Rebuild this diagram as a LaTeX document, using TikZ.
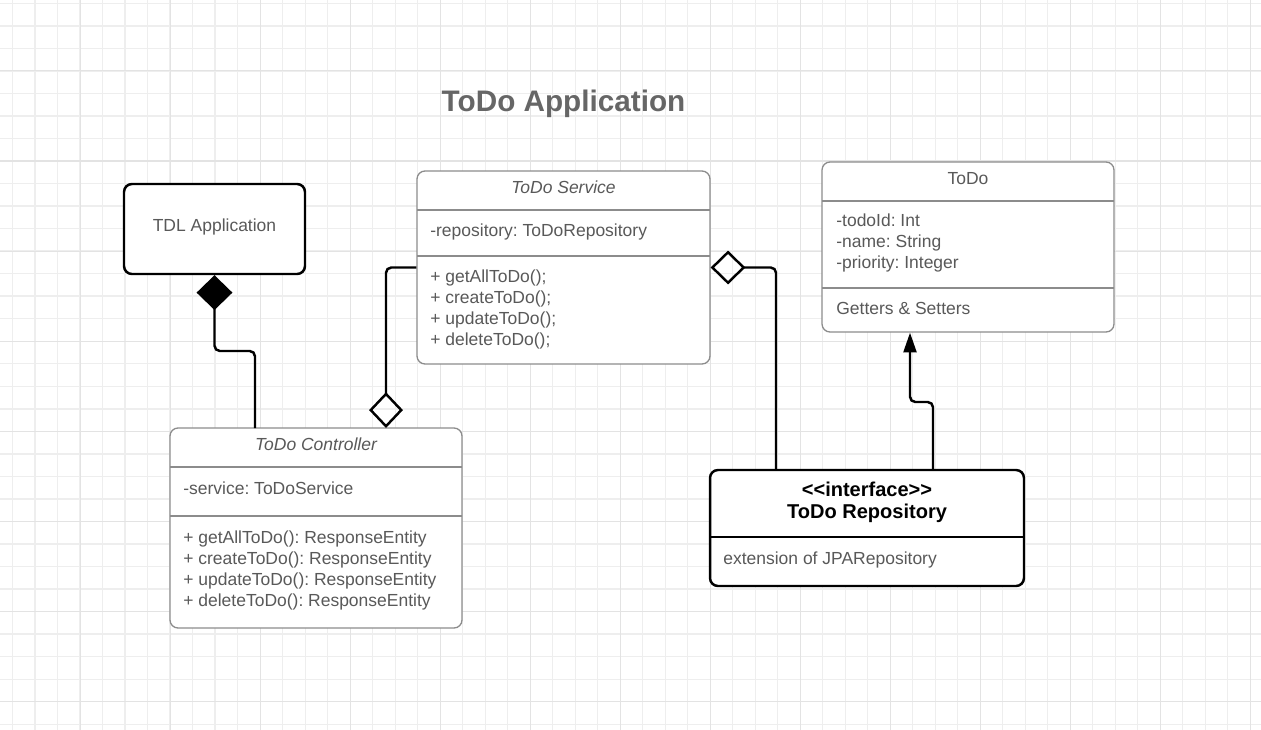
\documentclass[tikz,border=0pt]{standalone}
\usepackage{fontspec}
\setmainfont{Liberation Sans}
\usetikzlibrary{arrows.meta}
\frenchspacing

\definecolor{txtgray}{HTML}{595959}
\definecolor{titlegray}{HTML}{666666}
\definecolor{boxgray}{HTML}{8C8C8C}
\definecolor{gridminor}{HTML}{EEEEEE}
\definecolor{gridmajor}{HTML}{E3E3E3}

\begin{document}
\begin{tikzpicture}[x=0.02cm, y=-0.02cm,
    classbox/.style={draw=boxgray, line width=0.75pt, rounded corners=4.5pt, fill=white, inner sep=0pt},
    boldbox/.style={draw=black, line width=1.4pt, rounded corners=4.5pt, fill=white, inner sep=0pt},
    divider/.style={draw=boxgray, line width=0.75pt},
    member/.style={anchor=west, inner sep=0pt, text=txtgray, text height=1.6ex, text depth=0.4ex, font=\fontsize{9.95}{12}\selectfont},
    heading/.style={member, anchor=center},
    stereo/.style={inner sep=0pt, font=\fontsize{11.4}{13}\selectfont\bfseries},
    link/.style={line width=1.4pt, rounded corners=3pt},
]
    \useasboundingbox (0,0) rectangle (1261,730);
    % Grid
    \foreach \i in {0,...,55} {
        \draw[gridminor, line width=0.8pt] ({12.7+22.5*\i},0) -- ({12.7+22.5*\i},730);
    }
    \foreach \i in {0,...,32} {
        \draw[gridminor, line width=0.8pt] (0,{3.3+22.53*\i}) -- (1261,{3.3+22.53*\i});
    }
    \foreach \i in {3,7,...,55} {
        \draw[gridmajor, line width=0.6pt] ({12.7+22.5*\i},0) -- ({12.7+22.5*\i},730);
    }
    \foreach \i in {3,7,...,31} {
        \draw[gridmajor, line width=0.6pt] (0,{3.3+22.53*\i}) -- (1261,{3.3+22.53*\i});
    }

    % Title
    \node[text=titlegray, font=\fontsize{16.9}{20}\selectfont\bfseries] (title) at (563.5,104) {ToDo Application};

    % TDL Application
    \node[boldbox, minimum width=3.62cm, minimum height=1.8cm] (tdl) at (214.5,229) {};
    \node[heading] (tdl-name) at (214.5,226) {TDL Application};

    % ToDo Service
    \node[classbox, minimum width=5.86cm, minimum height=3.86cm] (service) at (563.5,267.5) {};
    \node[heading, font=\fontsize{9.95}{12}\selectfont\itshape] (service-name) at (563.5,188) {ToDo Service};
    \draw[divider] (417,210) -- (710,210);
    \draw[divider] (417,256) -- (710,256);
    \node[member] (service-attr) at (430,231) {-repository: ToDoRepository};
    \foreach \name/\i in {getAllToDo/1,createToDo/2,updateToDo/3,deleteToDo/4} {
        \node[member] (service-op-\i) at (430,{256+21*\i}) {+ \name();};
    }

    % ToDo
    \node[classbox, minimum width=5.84cm, minimum height=3.4cm] (todo) at (968,247) {};
    \node[heading] (todo-name) at (968,179) {ToDo};
    \draw[divider] (822,201) -- (1114,201);
    \draw[divider] (822,288) -- (1114,288);
    \foreach \name/\i in {-todoId: Int/1,-name: String/2,-priority: Integer/3} {
        \node[member] (todo-attr-\i) at (836,{200+21*\i}) {\name};
    }
    \node[member] (todo-op) at (836,309) {Getters \& Setters};

    % ToDo Controller
    \node[classbox, minimum width=5.84cm, minimum height=4cm] (controller) at (316,528) {};
    \node[heading, font=\fontsize{9.95}{12}\selectfont\itshape] (controller-name) at (316,445) {ToDo Controller};
    \draw[divider] (170,467) -- (462,467);
    \draw[divider] (170,516) -- (462,516);
    \node[member] (controller-attr) at (183,489) {-service: ToDoService};
    \foreach \name/\i in {getAllToDo/1,createToDo/2,updateToDo/3,deleteToDo/4} {
        \node[member] (controller-op-\i) at (183,{517+21*\i}) {+ \name(): ResponseEntity};
    }

    % ToDo Repository
    \node[boldbox, minimum width=6.28cm, minimum height=2.32cm] (repo) at (867,528) {};
    \node[stereo] (repo-stereo) at (867,489) {<{}<interface>{}>};
    \node[stereo] (repo-name) at (867,513) {ToDo Repository};
    \draw[line width=1.4pt] (710,537) -- (1024,537);
    \node[member] (repo-note) at (723,559) {extension of JPARepository};

    % Connectors
    \coordinate (ctl-in) at (255,428);
    \coordinate (ctl-agg) at (386,428);
    \coordinate (repo-in) at (776,470);
    \coordinate (repo-out) at (933,470);
    \coordinate (todo-bend) at (910,402);
    \draw[link, {Diamond[length=19.8pt,width=20.4pt]}-] (tdl.south) |- (ctl-in |- 0,351) -- (ctl-in);
    \draw[link, -{Diamond[open,length=20.4pt,width=19.3pt]}] (service.west) -| (ctl-agg);
    \draw[link, {Diamond[open,length=19.8pt,width=19.3pt]}-] (service.east) -| (repo-in);
    \draw[link, -{Triangle[length=11.3pt,width=7.4pt]}] (repo-out) |- (todo-bend) -- (todo-bend |- todo.south);
\end{tikzpicture}
\end{document}
